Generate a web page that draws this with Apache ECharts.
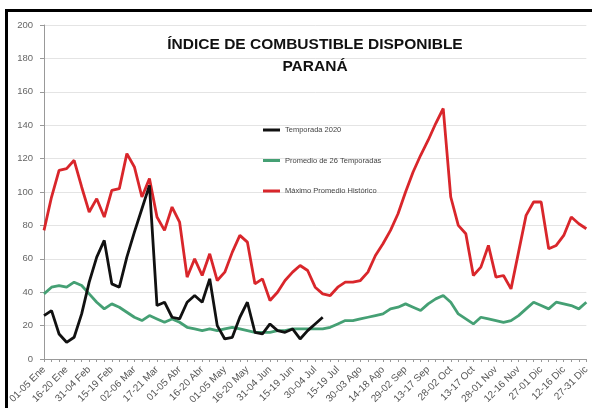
<!DOCTYPE html>
<html><head><meta charset="utf-8">
<script src="https://cdn.jsdelivr.net/npm/echarts@6/dist/echarts.min.js"></script>
<style>html,body{margin:0;padding:0;background:#fff}#c{width:592px;height:408px}</style>
</head><body><div id="c"></div>
<script>
const categories = ["01-05 Ene","06-10 Ene","11-15 Ene","16-20 Ene","21-25 Ene","26-30 Ene","31-04 Feb","05-09 Feb","10-14 Feb","15-19 Feb","20-24 Feb","25-01 Mar","02-06 Mar","07-11 Mar","12-16 Mar","17-21 Mar","22-26 Mar","27-31 Mar","01-05 Abr","06-10 Abr","11-15 Abr","16-20 Abr","21-25 Abr","26-30 Abr","01-05 May","06-10 May","11-15 May","16-20 May","21-25 May","26-30 May","31-04 Jun","05-09 Jun","10-14 Jun","15-19 Jun","20-24 Jun","25-29 Jun","30-04 Jul","05-09 Jul","10-14 Jul","15-19 Jul","20-24 Jul","25-29 Jul","30-03 Ago","04-08 Ago","09-13 Ago","14-18 Ago","19-23 Ago","24-28 Ago","29-02 Sep","03-07 Sep","08-12 Sep","13-17 Sep","18-22 Sep","23-27 Sep","28-02 Oct","03-07 Oct","08-12 Oct","13-17 Oct","18-22 Oct","23-27 Oct","28-01 Nov","02-06 Nov","07-11 Nov","12-16 Nov","17-21 Nov","22-26 Nov","27-01 Dic","02-06 Dic","07-11 Dic","12-16 Dic","17-21 Dic","22-26 Dic","27-31 Dic"];
const temporada2020 = [26,29,15,10,13,27,46,61,71,45,43,61,76,90,104,32,34,25,24,34,38,34,48,20,12,13,25,34,16,15,21,17,16,18,12,17,21,25];
const promedio26 = [39,43,44,43,46,44,39,34,30,33,31,28,25,23,26,24,22,24,22,19,18,17,18,17,18,19,18,17,16,16,16,17,17,18,18,18,18,18,19,21,23,23,24,25,26,27,30,31,33,31,29,33,36,38,34,27,24,21,25,24,23,22,23,26,30,34,32,30,34,33,32,30,34];
const maximoHistorico = [77,97,113,114,119,103,88,96,85,101,102,123,115,97,108,85,77,91,82,49,60,50,63,47,52,64,74,70,45,48,35,40,47,52,56,53,43,39,38,43,46,46,47,52,62,69,77,87,100,112,122,131,141,150,97,80,75,50,55,68,49,50,42,64,86,94,94,66,68,74,85,81,78];
const seriesNames = ["Temporada 2020","Promedio de 26 Temporadas","Máximo Promedio Histórico"];
const titleLines = ["ÍNDICE DE COMBUSTIBLE DISPONIBLE","PARANÁ"];

const chart = echarts.init(document.getElementById('c'), null, {renderer:'canvas'});
const FONT = '"Liberation Sans", Arial, sans-serif';
chart.setOption({
  animation: false,
  backgroundColor: '#fff',
  textStyle: {fontFamily: FONT},
  grid: {left: 44, right: 2, top: 25, bottom: 49, containLabel: false},
  legend: {
    data: seriesNames,
    orient: 'vertical',
    left: 263, top: 125, padding: 0,
    itemWidth: 17, itemHeight: 3, itemGap: 20.5,
    icon: 'rect',
    textStyle: {fontSize: 7.5, color: '#444', lineHeight: 10, fontFamily: FONT}
  },
  xAxis: {
    type: 'category', data: categories, boundaryGap: false,
    axisLine: {lineStyle: {color: '#999', width: 1}},
    axisTick: {show: true, interval: 0, length: 3, lineStyle: {color: '#999'}},
    axisLabel: {interval: 2, rotate: 45, fontSize: 10, color: '#555', margin: 9, fontFamily: FONT},
    splitLine: {show: false}
  },
  yAxis: {
    type: 'value', min: 0, max: 200, interval: 20,
    axisLine: {show: true, lineStyle: {color: '#999', width: 1}},
    axisTick: {show: true, length: 4, lineStyle: {color: '#999'}},
    axisLabel: {fontSize: 9.5, color: '#666', margin: 11, fontFamily: FONT},
    splitLine: {show: true, lineStyle: {color: '#e4e4e4', width: 1}}
  },
  series: [
    {name: seriesNames[0], type: 'line', data: temporada2020, symbol: 'none', z: 5,
     color: '#111', lineStyle: {color: '#111', width: 2.8}},
    {name: seriesNames[1], type: 'line', data: promedio26, symbol: 'none', z: 3,
     color: '#45a074', lineStyle: {color: '#45a074', width: 2.8}},
    {name: seriesNames[2], type: 'line', data: maximoHistorico, symbol: 'none', z: 4,
     color: '#d9262b', lineStyle: {color: '#d9262b', width: 2.8}}
  ],
  graphic: [
    {type: 'text', left: 315 - 160, top: 34, z: 10,
     style: {text: titleLines.join('\n'), width: 320, align: 'center', textAlign: 'center',
       font: 'bold 15.5px ' + FONT, fill: '#111', lineHeight: 22}},
    {type: 'rect', shape: {x: 6.5, y: 10.5, width: 700, height: 500}, z: 20, silent: true,
     style: {fill: 'none', stroke: '#000', lineWidth: 3}}
  ]
});
</script></body></html>
